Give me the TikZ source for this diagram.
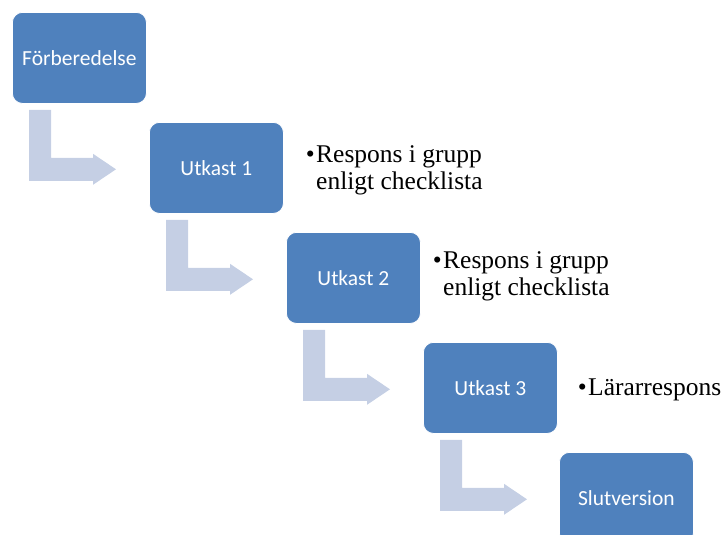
\documentclass[tikz,border=0pt]{standalone}
\usepackage{fontspec}
\setmainfont{Liberation Serif}
\newfontfamily\boxfont{Carlito}
\usetikzlibrary{calc}
\definecolor{boxblue}{HTML}{4F81BD}
\definecolor{arrowblue}{RGB}{197,207,228}
\tikzset{
  stagebox/.style={draw=white, line width=0.8pt, fill=boxblue, rounded corners=10pt,
    minimum width=134pt, minimum height=91pt, inner sep=0pt, anchor=north west,
    text=white, font=\boxfont\fontsize{21.5}{24}\selectfont},
  note/.style={anchor=base west, align=left, inner sep=0pt,
    font=\fontsize{25.5}{27}\selectfont},
  bulletmark/.style={anchor=base east, inner sep=0pt, font=\fontsize{25.5}{27}\selectfont},
  bentarrow/.style={fill=arrowblue, draw=none}
}
\newcommand{\bent}[1]{%
  \fill[bentarrow] ($(#1.south west)+(17,6)$) -- ++(22,0) -- ++(0,48) -- ++(42,0)
    -- ++(0,-4) -- ++(23,15.5) -- ++(-23,15.5) -- ++(0,-4) -- ++(-64,0) -- cycle;}
\begin{document}
\begin{tikzpicture}[x=1pt,y=-1pt]
\useasboundingbox (0,0) rectangle (723,535);
\node[stagebox] (b1) at (12,12) {Förberedelse};
\node[stagebox] (b2) at (149,122) {Utkast 1};
\node[stagebox] (b3) at (286,232) {Utkast 2};
\node[stagebox] (b4) at (423,342) {Utkast 3};
\node[stagebox] (b5) at (559,452) {Slutversion};
\bent{b1}
\bent{b2}
\bent{b3}
\bent{b4}
\node[note] (n1) at (316,189) {Respons i grupp\\enligt checklista};
\node[bulletmark] (m1) at (315,162) {•};
\node[note] (n2) at (443,295) {Respons i grupp\\enligt checklista};
\node[bulletmark] (m2) at (442,268) {•};
\node[note] (n3) at (588,395) {Lärarrespons};
\node[bulletmark] (m3) at (587,395) {•};
\end{tikzpicture}
\end{document}
